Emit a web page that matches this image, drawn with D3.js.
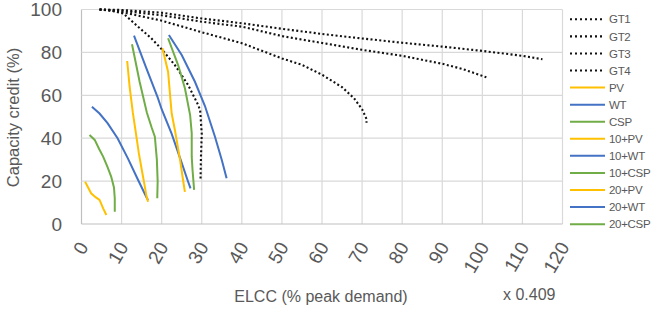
<!DOCTYPE html>
<html>
<head>
<meta charset="utf-8">
<script src="https://cdn.jsdelivr.net/npm/d3@7"></script>
<style>
  body { margin: 0; background: #fff; }
  text { font-family: "Liberation Sans", Arial, sans-serif; fill: #595959; }
</style>
</head>
<body>
<div id="chart"></div>
<script>
// Gas turbine reference curves (x = ELCC, y = capacity credit)
var gt1 = [[4.5,100],[10,99.8],[20,98.5],[30,95.8],[40,93.6],[50,91],[60,88.6],[70,86.5],[80,84.5],[90,82.7],[100,80.7],[110,78.4],[115,76.8]];
var gt2 = [[4.5,100],[10,99.4],[20,97.3],[30,94.3],[40,92],[50,87.6],[60,84.4],[70,81.2],[80,78.4],[90,74.7],[95,72.3],[101,68.4]];
var gt3 = [[4.5,100],[10,98.8],[20,94.8],[30,89.4],[40,84.3],[50,77.2],[55,74.2],[60,69.6],[65,63.8],[68,58.6],[70,53.5],[71.1,49],[71.1,47.2]];
var gt4 = [[4.5,100],[7,99.6],[10.4,98.2],[14.1,92],[17.4,86.6],[20,81.5],[23.3,74.1],[26.6,64.8],[29.1,55.5],[29.6,53],[30,42],[29.8,31],[29.7,21]];

// Renewable curves
var pv = [[0.9,19.7],[2.4,14.3],[3.5,12.5],[4.5,11.2],[5.4,7.3],[6.2,4.2]];
var wt = [[2.6,54.7],[4.5,51.5],[6.5,47],[9,40],[11.6,30.5],[14,21],[16.2,12.5],[16.6,11.2]];
var csp = [[2,41.5],[3.3,39.2],[4.4,35],[5.4,31.4],[6.5,26.5],[7.4,22.1],[8.1,17],[8.3,12],[8.3,5.7]];
var pv10 = [[11.4,76],[12,64],[12.8,52],[13.7,40.7],[14.3,33],[14.9,26.7],[15.8,17.4],[16.2,13],[16.6,10.4]];
var wt10 = [[13.1,87.8],[16,73.5],[19,59],[20,53.5],[22.5,42],[25,28.5],[26.6,19.7],[27.2,16.6]];
var csp10 = [[12.6,83.8],[14.5,66.3],[16.3,52],[17.5,45],[18.3,40.7],[18.8,30],[19,20],[18.9,12]];
var pv20 = [[20.2,81.9],[21.6,71],[22.1,60.1],[22.5,51.5],[23.3,43.8],[24.6,29.8],[25.4,19.7],[25.8,15]];
var wt20 = [[21.8,88.1],[25,78.8],[28.3,66.3],[30.8,55],[33.3,40.7],[35,29.8],[36.2,21.3]];
var csp20 = [[21.6,86.6],[24.1,74.1],[25.8,63.3],[27.1,50.8],[27.5,42.3],[27.5,31.4],[27.7,25.2],[28.1,15.9]];

var seriesNames = ["GT1", "GT2", "GT3", "GT4", "PV", "WT", "CSP", "10+PV", "10+WT", "10+CSP", "20+PV", "20+WT", "20+CSP"];
var seriesData = [gt1, gt2, gt3, gt4, pv, wt, csp, pv10, wt10, csp10, pv20, wt20, csp20];
var seriesKind = ["gt", "gt", "gt", "gt", "pv", "wt", "csp", "pv", "wt", "csp", "pv", "wt", "csp"];

var xTicks = d3.range(0, 121, 10);
var yTicks = [0, 20, 40, 60, 80, 100];

var width = 652,
    height = 312;

var colors = { gt: "#111111", pv: "#FFC000", wt: "#4472C4", csp: "#70AD47" };

var svg = d3.select("#chart").append("svg")
    .attr("width", width)
    .attr("height", height);

var x = d3.scaleLinear()
    .domain([0, 120])
    .range([81.5, 562.5]);

var y = d3.scaleLinear()
    .domain([0, 100])
    .range([224, 9.5]);

// Gridlines
svg.append("g")
    .selectAll("line")
    .data(xTicks)
  .enter().append("line")
    .attr("x1", function(d) { return x(d); })
    .attr("x2", function(d) { return x(d); })
    .attr("y1", y(0))
    .attr("y2", y(100))
    .style("stroke", function(d) { return d === 0 ? "#bfbfbf" : "#d9d9d9"; })
    .style("stroke-width", 1.2);

svg.append("g")
    .selectAll("line")
    .data(yTicks)
  .enter().append("line")
    .attr("x1", x(0))
    .attr("x2", x(120))
    .attr("y1", function(d) { return y(d); })
    .attr("y2", function(d) { return y(d); })
    .style("stroke", function(d) { return d === 0 ? "#bfbfbf" : "#d9d9d9"; })
    .style("stroke-width", 1.2);

// Y tick labels
svg.append("g")
    .selectAll("text")
    .data(yTicks)
  .enter().append("text")
    .attr("x", 62)
    .attr("y", function(d) { return y(d); })
    .attr("dy", "0.36em")
    .attr("text-anchor", "end")
    .style("font-size", "19px")
    .text(function(d) { return d; });

// X tick labels, rotated
svg.append("g")
    .selectAll("text")
    .data(xTicks)
  .enter().append("text")
    .attr("transform", function(d) { return "translate(" + (x(d) + 1.5) + "," + 243.5 + ") rotate(-60)"; })
    .attr("dy", "0.36em")
    .attr("text-anchor", "end")
    .style("font-size", "19px")
    .text(function(d) { return d; });

// Axis titles
svg.append("text")
    .attr("transform", "translate(19,117.5) rotate(-90)")
    .attr("text-anchor", "middle")
    .style("font-size", "16.5px")
    .text("Capacity credit (%)");

svg.append("text")
    .attr("x", 321)
    .attr("y", 301.5)
    .attr("text-anchor", "middle")
    .style("font-size", "16px")
    .text("ELCC (% peak demand)");

svg.append("text")
    .attr("x", 503)
    .attr("y", 300)
    .style("font-size", "16px")
    .text("x 0.409");

// Series lines
var line = d3.line()
    .x(function(d) { return x(d[0]); })
    .y(function(d) { return y(d[1]); });

function styleLine(sel, kind) {
  if (kind === "gt") {
    sel.style("stroke", colors.gt)
        .style("stroke-width", 2.1)
        .style("stroke-dasharray", "2,2.4");
  } else {
    sel.style("stroke", colors[kind])
        .style("stroke-width", 2);
  }
}

seriesData.forEach(function(data, i) {
  svg.append("path")
      .datum(data)
      .attr("d", line)
      .style("fill", "none")
      .call(styleLine, seriesKind[i]);
});

// Legend
var legend = svg.append("g")
    .selectAll("g")
    .data(seriesNames)
  .enter().append("g")
    .attr("transform", function(d, i) { return "translate(570," + (19.3 + i * 17.07) + ")"; });

legend.append("line")
    .attr("x1", 0)
    .attr("x2", 35)
    .each(function(d, i) {
      d3.select(this).call(styleLine, seriesKind[i]);
      if (seriesKind[i] === "gt") d3.select(this).style("stroke-dasharray", "2,3");
    });

legend.append("text")
    .attr("x", 39)
    .attr("dy", "0.36em")
    .style("font-size", "11.5px")
    .style("letter-spacing", "-0.3px")
    .text(function(d) { return d; });
</script>
</body>
</html>
